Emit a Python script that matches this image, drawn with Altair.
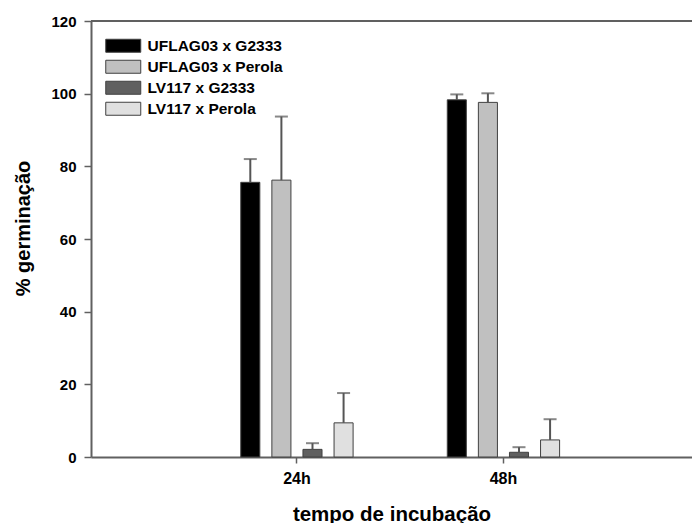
import altair as alt
import pandas as pd

times = ["24h", "48h"]
series = ["UFLAG03 x G2333", "UFLAG03 x Perola", "LV117 x G2333", "LV117 x Perola"]
mean_24h = [75.6, 76.2, 2.1, 9.4]
mean_48h = [98.3, 97.6, 1.3, 4.7]
sd_24h = [6.4, 17.5, 1.7, 8.2]
sd_48h = [1.5, 2.5, 1.4, 5.7]
colors = ["#000000", "#c0c0c0", "#606060", "#e0e0e0"]
y_ticks = [0, 20, 40, 60, 80, 100, 120]

rows = []
for t, means, sds in [("24h", mean_24h, sd_24h), ("48h", mean_48h, sd_48h)]:
    for s, m, e in zip(series, means, sds):
        rows.append({"time": t, "series": s, "mean": m, "sd": e})
df = pd.DataFrame(rows)

FONT = "Liberation Sans"
AXC = "#606060"

x_enc = alt.X(
    "time:N",
    scale=alt.Scale(domain=times, paddingInner=0.456, paddingOuter=0.6832, align=0.5308),
    axis=alt.Axis(
        title="tempo de incubação", labelAngle=0, labelPadding=7, labelFontSize=16,
        tickSize=6, titleFontSize=20.5, titleY=63, titleBaseline="alphabetic",
    ),
)
xoff = alt.XOffset(
    "series:N", sort=series,
    scale=alt.Scale(domain=series, paddingInner=0.387, paddingOuter=0),
)

base = alt.Chart(df).transform_calculate(upper="datum.mean + datum.sd")

bars = base.mark_bar(stroke="#404040", strokeWidth=1).encode(
    x=x_enc,
    xOffset=xoff,
    y=alt.Y(
        "mean:Q",
        scale=alt.Scale(domain=[0, 120], nice=False),
        axis=alt.Axis(
            values=y_ticks, title="% germinação", titleAngle=270,
            titleX=-68, titleY=207, titleAlign="center", titleBaseline="middle",
            titleFontSize=20, labelPadding=8, labelFontSize=15, tickSize=7,
        ),
    ),
    color=alt.Color(
        "series:N",
        sort=series,
        scale=alt.Scale(domain=series, range=colors),
        legend=alt.Legend(
            title=None, orient="none", legendX=14, legendY=17, padding=0,
            symbolType="M-1.077,-1H4.308V1H-1.077Z", symbolSize=169,
            symbolStrokeColor="#404040", symbolStrokeWidth=1, symbolOpacity=1,
            labelFont=FONT, labelFontSize=15.5, labelFontWeight="bold",
            labelColor="#000000", labelOffset=27, rowPadding=3,
        ),
    ),
)

err = base.mark_rule(color="#555555", strokeWidth=2).encode(
    x=x_enc, xOffset=xoff, y="mean:Q", y2="upper:Q"
)
caps = base.mark_tick(color="#555555", thickness=2, size=13).encode(
    x=x_enc, xOffset=xoff, y="upper:Q"
)

frame = alt.Chart(pd.DataFrame({"top": [120]})).mark_rule(
    color=AXC, strokeWidth=2
).encode(y="top:Q")

chart = alt.layer(bars, err, caps, frame).properties(
    width=601, height=436,
    autosize=alt.AutoSizeParams(type="none"),
    padding={"left": 83, "top": 13, "right": 0, "bottom": 66},
).configure_view(stroke=None).configure_axis(
    domainColor=AXC, domainWidth=2, tickColor=AXC, tickWidth=1.5,
    labelFont=FONT, labelFontWeight="bold", labelColor="#000000",
    titleFont=FONT, titleFontWeight="bold", titleColor="#000000", grid=False,
)

chart.save("out.html", embed_options={"renderer": "svg", "actions": False})
